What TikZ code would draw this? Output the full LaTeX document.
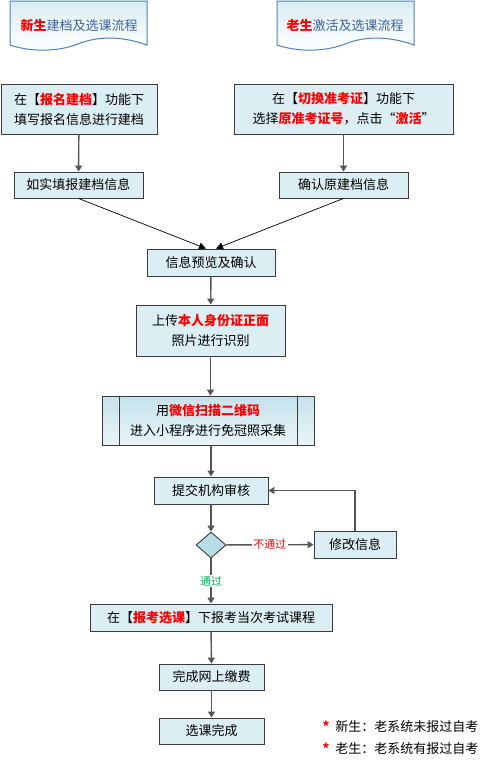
\documentclass[tikz,border=0pt]{standalone}
\usepackage{fontspec}
\setmainfont{Noto Sans CJK SC}
\usepackage{tikz}
\usetikzlibrary{arrows.meta,shapes.geometric}

\definecolor{boxfill}{RGB}{219,238,243}
\definecolor{boxline}{RGB}{60,60,60}
\definecolor{flowline}{RGB}{85,85,85}
\definecolor{docline}{RGB}{79,129,189}
\definecolor{doctext}{RGB}{60,100,160}
\definecolor{diafill}{RGB}{183,221,232}
\definecolor{qrtop}{RGB}{196,227,236}
\definecolor{qrbottom}{RGB}{234,245,248}
\definecolor{passgreen}{RGB}{0,176,80}

\newcommand{\redpart}[1]{\textcolor{red}{\bfseries #1}}

\tikzset{
  stepbox/.style={draw=boxline, fill=boxfill, line width=0.9pt, inner sep=0pt,
    align=center, font=\fontsize{13}{20}\selectfont},
  flow/.style={draw=flowline, line width=1.4pt, -{Triangle[width=7pt,length=6pt]}},
  thinflow/.style={draw=black, line width=0.7pt, -{Triangle[width=7pt,length=7pt]}},
  doc/.style={draw=docline, line width=1pt, top color=boxfill, bottom color=white},
  tag/.style={fill=white, inner sep=1.5pt, font=\fontsize{11}{13}\selectfont},
}

\begin{document}
\begin{tikzpicture}[x=1pt, y=-1pt]
    \useasboundingbox (0,0) rectangle (489,763);

    % Draw the two document headers
    \foreach \dx in {0,267}
        \path[doc, xshift=\dx] (10,1) -- (147,1) -- (147,45)
            .. controls (125,37) and (100,35) .. (78,44)
            .. controls (58,52) and (30,52) .. (10,45) -- cycle;
    \node[font=\fontsize{13}{15}\selectfont, text=doctext] (newtitle) at (79,25) {\redpart{新生}建档及选课流程};
    \node[font=\fontsize{13}{15}\selectfont, text=doctext] (oldtitle) at (345,25) {\redpart{老生}激活及选课流程};

    % First steps for new and old students
    \node[stepbox, minimum width=156, minimum height=50] (reg) at (79,109)
        {在【\redpart{报名建档}】功能下\\填写报名信息进行建档};
    \node[stepbox, minimum width=219, minimum height=50] (act) at (343.5,109)
        {在【\redpart{切换准考证}】功能下\\选择\redpart{原准考证号}，点击“\redpart{激活}”};
    \node[stepbox, minimum width=129, minimum height=26] (fill) at (78.5,185) {如实填报建档信息};
    \node[stepbox, minimum width=129, minimum height=26] (conf) at (343.5,185) {确认原建档信息};

    % Common steps
    \node[stepbox, minimum width=128, minimum height=27] (preview) at (211,262.5) {信息预览及确认};
    \node[stepbox, minimum width=149, minimum height=51] (upload) at (210.5,330.5)
        {上传\redpart{本人身份证正面}\\照片进行识别};
    \node[stepbox, top color=qrtop, bottom color=qrbottom, minimum width=212, minimum height=49] (wechat) at (208,420.5)
        {用\redpart{微信扫描二维码}\\进入小程序进行免冠照采集};
    \draw[boxline, line width=0.9pt] ([xshift=18]wechat.north west) -- ([xshift=18]wechat.south west);
    \draw[boxline, line width=0.9pt] ([xshift=-17]wechat.north east) -- ([xshift=-17]wechat.south east);
    \node[stepbox, minimum width=114, minimum height=27] (submit) at (211,490.5) {提交机构审核};
    \node[diamond, draw=boxline, fill=diafill, line width=0.9pt, inner sep=0pt,
        minimum width=30, minimum height=26] (check) at (211,545) {};
    \node[stepbox, minimum width=82, minimum height=27] (modify) at (355,544.5) {修改信息};
    \node[stepbox, minimum width=242, minimum height=27] (select) at (211,617.5)
        {在【\redpart{报考选课}】下报考当次考试课程};
    \node[stepbox, minimum width=105, minimum height=26] (pay) at (211.5,677) {完成网上缴费};
    \node[stepbox, minimum width=105, minimum height=26] (done) at (211.5,731) {选课完成};

    % Connect the steps
    \draw[flow] (reg) -- (fill);
    \draw[flow] (act) -- (conf);
    \draw[thinflow] (fill.south) -- ([xshift=-5]preview.north);
    \draw[thinflow] (conf.south) -- ([xshift=5]preview.north);
    \draw[flow] (preview) -- (upload);
    \draw[flow] (upload) -- (wechat.north -| upload.south);
    \draw[flow] (wechat.south -| submit.north) -- (submit);
    \draw[flow] (submit) -- (check);
    \draw[flow] (check) -- node[tag, text=red] {不通过} (modify);
    \draw[flow] (modify.north) |- (submit.east);
    \draw[flow] (check) -- node[tag, text=passgreen] {通过} (select);
    \draw[flow] (select) -- (pay);
    \draw[flow] (pay) -- (done);

    % Notes in the corner
    \node[anchor=west, font=\fontsize{13}{15}\selectfont] (newnote) at (319,727)
        {\textcolor{red}{\bfseries *}\hspace{6pt}新生：老系统未报过自考};
    \node[anchor=west, font=\fontsize{13}{15}\selectfont] (oldnote) at (319,749)
        {\textcolor{red}{\bfseries *}\hspace{6pt}老生：老系统有报过自考};

\end{tikzpicture}
\end{document}
